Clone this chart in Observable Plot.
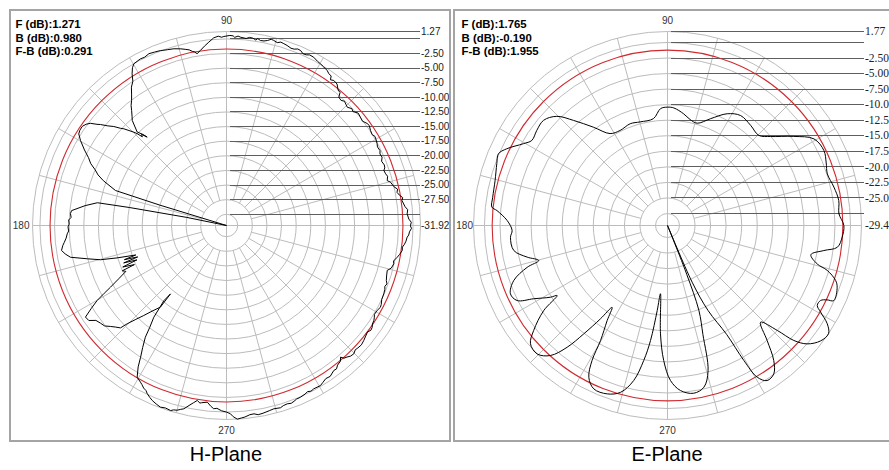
<!DOCTYPE html>
<html><head><meta charset="utf-8">
<script src="https://cdn.jsdelivr.net/npm/d3@7"></script>
<script src="https://cdn.jsdelivr.net/npm/@observablehq/plot@0.6"></script>
<style>
body{margin:0;width:889px;height:470px;overflow:hidden;background:#fff;position:relative;font-family:"Liberation Sans",Arial,sans-serif}
.panel{position:absolute;top:9px;width:438px;height:429px;border:2px solid #a4a4a4;background:#fff;overflow:hidden}
.cap{position:absolute;top:443px;font-size:20px;line-height:23px;width:300px;text-align:center;color:#000}
</style></head><body>
<div id="h" class="panel" style="left:9px"></div>
<div id="e" class="panel" style="left:453px"></div>
<div class="cap" style="left:76px">H-Plane</div>
<div class="cap" style="left:517px">E-Plane</div>
<script>
// ---------- H-Plane data (angle in degrees, gain in dB) ----------
const hAngle = [0,1,2,3.7,5,6,8.1,9,10,11,
12,13,14.8,15.6,17,18,19.3,20,21,22.5,
23.7,25,26,27.5,28.5,30,31,32,33.4,35,
36,37.5,39,40.5,42,43,44.4,45.5,46.5,47.5,
48.8,49.5,50.5,52,53.5,54.5,55,56,57,58.5,
59.8,61,62.6,64,65,66,67,68,69,70,
71.4,72.5,73.5,74.5,75.7,76.5,77.5,78.5,79.6,80.5,
81,82,83,84,85.7,86.5,87.5,88,89,90.8,
91.5,92.5,93.9,95.5,97,98.5,99.7,100.5,101,102,
103,104.5,106.6,108.5,110.7,112.5,114.3,116,117.3,119.8,
120.8,121.9,123,124.5,126,127.2,128.5,129.5,131,131.9,
133.7,132.5,131.9,133,133.5,134.2,134.8,136.7,137.5,138.7,
140,141.3,142,143.1,144.2,145.5,147,148.2,149.8,152,
153.8,155.5,157,158.5,160,162.5,163,163.5,168.5,169.5,
170,172,174.5,175.6,177,178,179.5,180.5,182,183,
184.5,186,187,188.6,190,191.5,193.5,195.2,196.5,198,
198.5,199.5,200,201,201.8,203,203.5,204.5,206.3,208,
209,210.1,211.5,213,214.6,216,217.8,219.5,221,222.5,
224,224.7,226,227.4,229,231,230.7,230.2,231.6,233,
234,235.5,236.9,238,239.5,241.2,242,243,244,244.8,
246,247,248.5,250,251.5,253.2,254,255,256,256.9,
258.5,259.5,260.5,261.5,262,263.8,265,266,267,268.5,
270,271.2,272,273.2,274.5,275.5,277,278.3,279.5,281,
283,284.5,286.5,287.5,288.8,290,291,292,293.3,295,
296,297,298.1,300.4,301.5,303,304.5,306.5,307.5,308.5,
310,310.9,311.5,312.5,313.5,314.8,316,317,318.5,320,
321.5,323,324,325,326,327.2,328,329,330.6,332,
333,334.5,336.5,338,339,340,341,342.5,344.4,345.5,
347.1,348,349.5,350.5,351.9,353,354,355,356.3,357,
358,359];
const hGain = [-0.44,-0.3,-0.7,-0.95,-0.8,-1.2,-1.6,-1.4,-1.9,-2.2,
-2.0,-2.5,-2.9,-3.37,-3.1,-3.3,-3.4,-3.1,-3.0,-3.2,
-2.85,-2.95,-2.7,-2.8,-2.6,-2.4,-2.3,-2.55,-2.4,-2.1,
-2.2,-2.6,-2.45,-2.3,-2.8,-2.6,-3.0,-2.8,-2.6,-2.9,
-2.75,-2.0,-1.9,-1.2,-1.05,-1.3,-0.7,-0.6,-0.3,-0.1,
0.07,0.2,0.5,0.55,0.3,0.25,0.58,0.65,0.4,0.35,
0.58,0.7,0.8,0.55,0.76,0.85,0.5,0.3,0.26,0.5,
0.2,0.45,0.5,0.25,0.38,0.55,0.3,0.55,0.6,0.42,
0.3,0.5,0.26,-0.4,-1.0,-1.65,-2.1,-1.7,-1.6,-1.2,
-1.0,-0.7,-0.37,-0.2,0.07,0.2,0.33,0.1,0.17,-0.03,
-0.5,-1.36,-2.5,-3.2,-4.3,-5.06,-5.7,-6.4,-7.3,-7.78,
-9.81,-10.8,-11.6,-10.6,-11.0,-10.0,-9.42,-7.8,-7.3,-6.26,
-5.4,-4.29,-3.8,-2.8,-2.3,-1.98,-2.0,-2.18,-3.02,-4.4,
-5.6,-6.4,-7.5,-8.3,-9.5,-12.0,-20.0,-31.92,-25.0,-15.0,
-9.5,-7.5,-5.3,-5.14,-5.3,-4.9,-5.0,-4.8,-4.9,-4.63,
-4.4,-4.0,-3.7,-3.37,-3.9,-4.68,-7.5,-9.58,-12.4,-15.6,
-13.5,-15.8,-13.2,-15.5,-12.8,-14.8,-12.5,-13.0,-11.35,-9.44,
-8.0,-6.34,-4.8,-3.15,-3.3,-4.3,-4.65,-4.9,-5.6,-6.2,
-6.7,-8.0,-9.6,-11.0,-12.5,-13.96,-16.8,-15.2,-11.9,-10.1,
-8.3,-6.6,-5.0,-3.4,-1.8,-1.35,-1.1,-0.7,-0.5,-0.1,
0.3,0.6,0.9,1.15,1.0,1.15,0.9,0.8,0.5,0.28,
-0.6,-1.1,-1.57,-1.2,-1.3,-1.52,-0.9,-0.49,-0.6,-0.2,
0.0,0.3,0.8,1.271,1.1,1.0,0.7,0.64,0.9,0.8,
0.6,0.47,0.6,0.4,0.31,0.45,0.3,0.1,0.07,-0.1,
-0.3,-0.1,-0.24,-0.17,-0.4,-0.7,-0.6,-1.06,-1.0,-1.4,
-1.6,-2.12,-1.6,-1.4,-1.1,-1.0,-1.3,-1.2,-1.1,-1.28,
-1.5,-1.7,-1.4,-1.5,-1.8,-1.93,-2.1,-2.4,-2.33,-2.1,
-2.2,-2.5,-2.58,-2.7,-2.9,-2.7,-3.0,-3.2,-3.37,-2.8,
-2.56,-2.7,-2.2,-1.9,-1.55,-1.6,-1.3,-1.1,-0.95,-0.7,
-0.6,-0.3];
const hMax = 1.271, hMin = -31.92;
const hRings = [-30,-27.5,-25,-22.5,-20,-17.5,-15,-12.5,-10,-7.5,-5,-2.5,0];
const hTickValues = [1.271,-2.5,-5,-7.5,-10,-12.5,-15,-17.5,-20,-22.5,-25,-27.5,-31.92];
const hTickLabels = ["1.27","-2.50","-5.00","-7.50","-10.00","-12.50","-15.00","-17.50","-20.00","-22.50","-25.00","-27.50","-31.92"];
const hStats = ["F (dB):1.271","B (dB):0.980","F-B (dB):0.291"];

// ---------- E-Plane data ----------
const eAngle = [0,3.9,8.3,13,17.9,21.5,25.6,30.6,35.2,40.8,44.6,50.3,56.4,61.9,68,73.8,78,81.7,86.9,90,93.4,97.5,104.8,110.1,116.5,122,127,131.8,135.4,139.7,144,147.9,150.4,154.5,157,160.1,165.4,170.8,174,175,178.2,181.8,184.3,189.2,192.7,195.2,196.6,199.7,203.5,206.5,208.7,211.5,212.4,214.5,218.1,220.8,224.6,228,230.5,232.3,234.3,235.9,237.6,239.8,240.8,242.6,245.7,250.3,254.3,257.7,260,261.6,263.1,264.1,266.3,268.4,271.1,274.5,278.9,282.7,285.6,288,290.3,291.5,292,292,293.5,295.5,298.5,299.5,300.6,302.7,305.6,308.2,310.9,313.9,316.3,317.7,319.7,323,326.1,328.4,330.5,331.9,333.9,335,335.7,340,341.9,344.3,345.6,348.5,350.9,352.7,356.2];
const eGain  = [-1.07,-1.8,-1.6,-1.97,-2.42,-2.0,-1.54,-2.07,-4.58,-7.53,-8.8,-8.5,-8.2,-9.06,-10.9,-12.3,-12.0,-11.3,-10.5,-10.4,-10.6,-12.1,-12.2,-12.0,-12.35,-12.0,-9.64,-6.76,-4.43,-3.29,-3.44,-3.68,-2.79,-0.78,0.1,-0.24,-0.78,-0.96,-1.03,-1.9,-3.63,-4.43,-4.11,-4.38,-6.3,-7.97,-5.88,-3.17,-1.89,-2.4,-4.9,-7.36,-8.41,-5.28,-2.09,-0.32,-0.01,-1.3,-4.06,-7.4,-10.94,-13.54,-11.32,-8.02,-4.56,-1.94,-0.61,-0.67,-1.57,-3.92,-7.37,-10.73,-15.65,-18.4,-11.97,-7.7,-4.5,-2.81,-2.13,-2.78,-5.17,-11.0,-14.9,-21.0,-27.0,-29.43,-19.5,-14.3,-9.5,-4.5,-1.1,0.2,-0.08,-1.8,-4.95,-7.85,-5.0,-1.96,0.0,1.4,1.765,0.73,-1.14,-2.13,-2.02,-1.14,-0.09,-0.4,-0.99,-2.75,-4.58,-5.9,-3.97,-1.9,-1.28];
const eMax = 1.765, eMin = -29.43;
const eRings = [-27.5,-25,-22.5,-20,-17.5,-15,-12.5,-10,-7.5,-5,-2.5,0];
const eTickValues = [1.765,-2.5,-5,-7.5,-10,-12.5,-15,-17.5,-20,-22.5,-25,-29.43];
const eTickLabels = ["1.77","-2.50","-5.00","-7.50","-10.0","-12.5","-15.0","-17.5","-20.0","-22.5","-25.0","-29.4"];
const eStats = ["F (dB):1.765","B (dB):-0.190","F-B (dB):1.955"];

const spokeAngles = d3.range(0, 360, 15);

function polar({angles, gains, max, min, rings, tickValues, tickLabels, stats, cx, lineExt, labelFont, labelSize, curve, statsDx, lbl180dx}) {
  const W = 438, H = 429, cy = 214, R = 194;
  const k = R / (max - min);
  const Rd = max - min;
  const rad = a => a * Math.PI / 180;
  const pts = angles.map((a, i) => ({a, g: gains[i]}));
  const r2 = rings[1] - min;
  const r1 = a => (a % 90 === 0 ? 0 : r2);
  const angText = {fontSize: 10, fontFamily: "Liberation Sans", fill: "#333"};
  return Plot.plot({
    width: W, height: H, margin: 0,
    x: {domain: [-cx / k, (W - cx) / k], axis: null},
    y: {domain: [-(H - cy) / k, cy / k], axis: null},
    r: {type: "identity"},
    style: {background: "#fff", overflow: "hidden"},
    marks: [
      Plot.dot([...rings, max], {x: 0, y: 0, r: d => (d - min) * k, stroke: "#bcbcbc", fill: "none", strokeWidth: 1}),
      Plot.link(spokeAngles, {
        x1: a => r1(a) * Math.cos(rad(a)), y1: a => r1(a) * Math.sin(rad(a)),
        x2: a => Rd * Math.cos(rad(a)), y2: a => Rd * Math.sin(rad(a)),
        stroke: "#bcbcbc", strokeWidth: 1
      }),
      Plot.ruleY([...rings, max], {y: d => d - min, x1: 4 / k, x2: Rd + lineExt / k, stroke: "#5e5e5e", strokeWidth: 1, shapeRendering: "crispEdges"}),
      Plot.text(tickValues, {x: Rd + lineExt / k, y: d => d - min, text: (d, i) => tickLabels[i], textAnchor: "start", dx: 0.5, fontSize: labelSize, fontFamily: labelFont, fill: "#222"}),
      Plot.text([90], {x: 0, y: Rd, dy: -11, text: a => String(a), textAnchor: "middle", ...angText}),
      Plot.text([270], {x: 0, y: -Rd, dy: 11, text: a => String(a), textAnchor: "middle", ...angText}),
      Plot.text([180], {x: -Rd, y: 0, dx: lbl180dx, text: a => String(a), textAnchor: "end", ...angText}),
      Plot.dot([max - 3], {x: 0, y: 0, r: d => (d - min) * k, stroke: "#cf2a2f", fill: "none", strokeWidth: 1.1}),
      Plot.line(pts, {x: d => (d.g - min) * Math.cos(rad(d.a)), y: d => (d.g - min) * Math.sin(rad(d.a)), curve, stroke: "#000", strokeWidth: 1}),
      Plot.text([stats.join("\n")], {frameAnchor: "top-left", textAnchor: "start", lineAnchor: "top", dx: statsDx, dy: 7, lineHeight: 1.18, fontSize: 11.4, fontWeight: "bold", fontFamily: "Liberation Sans", fill: "#000"})
    ]
  });
}

document.getElementById("h").append(polar({
  angles: hAngle, gains: hGain, max: hMax, min: hMin, rings: hRings,
  tickValues: hTickValues, tickLabels: hTickLabels, stats: hStats,
  cx: 215, lineExt: 0, labelFont: "Liberation Sans", labelSize: 10, curve: "linear-closed", statsDx: 4, lbl180dx: -3
}));
document.getElementById("e").append(polar({
  angles: eAngle, gains: eGain, max: eMax, min: eMin, rings: eRings,
  tickValues: eTickValues, tickLabels: eTickLabels, stats: eStats,
  cx: 212, lineExt: 3, labelFont: "Liberation Serif", labelSize: 11.5, curve: "catmull-rom-closed", statsDx: 6, lbl180dx: -0.5
}));
</script>
</body></html>
